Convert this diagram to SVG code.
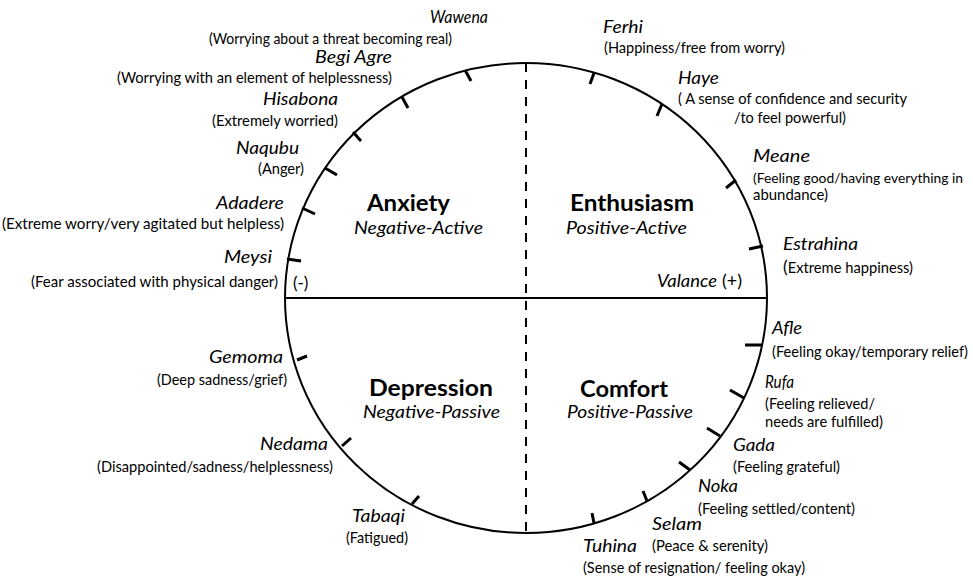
<svg xmlns="http://www.w3.org/2000/svg" width="973" height="576" viewBox="0 0 973 576">
<style>
text{font-family:Lato,"Liberation Sans",sans-serif;fill:#000}
.n{font-style:italic;font-size:18px}
.d{font-size:15px}
.q{font-weight:bold;font-size:23px}
.s{font-style:italic;font-size:18px}
.tk{stroke:#000;stroke-width:3;stroke-linecap:butt}
.ax{stroke:#000;stroke-width:2;fill:none}
</style>
<rect width="973" height="576" fill="#fff"/>
<g id="connectors">
<ellipse cx="526" cy="298" rx="241" ry="235" class="ax" stroke-width="2.5"/>
<line x1="285" y1="298" x2="767" y2="298" class="ax"/>
<line x1="526" y1="63" x2="526" y2="533" class="ax" stroke-width="2.5" stroke-dasharray="9,8"/>
</g>
<g id="axis-labels">
<text x="293" y="289" font-size="17">(-)</text>
<text y="287" font-size="18"><tspan x="657" font-style="italic" textLength="60" lengthAdjust="spacingAndGlyphs">Valance</tspan><tspan x="722">(+)</tspan></text>
</g>
<g id="q-anxiety"><text class="q" x="367" y="211" textLength="83" lengthAdjust="spacingAndGlyphs">Anxiety</text><text class="s" x="354" y="234" textLength="129" lengthAdjust="spacingAndGlyphs">Negative-Active</text></g>
<g id="q-enthusiasm"><text class="q" x="570" y="211" textLength="124" lengthAdjust="spacingAndGlyphs">Enthusiasm</text><text class="s" x="566" y="234" textLength="121" lengthAdjust="spacingAndGlyphs">Positive-Active</text></g>
<g id="q-depression"><text class="q" x="369" y="396" textLength="124" lengthAdjust="spacingAndGlyphs">Depression</text><text class="s" x="363" y="418" textLength="137" lengthAdjust="spacingAndGlyphs">Negative-Passive</text></g>
<g id="q-comfort"><text class="q" x="580" y="397" textLength="88" lengthAdjust="spacingAndGlyphs">Comfort</text><text class="s" x="567" y="418" textLength="126" lengthAdjust="spacingAndGlyphs">Positive-Passive</text></g>

<g id="wawena"><line class="tk" x1="465" y1="70" x2="471" y2="81"/><text class="n" x="430" y="23" textLength="58" lengthAdjust="spacingAndGlyphs">Wawena</text><text class="d" x="209" y="44" textLength="243" lengthAdjust="spacingAndGlyphs">(Worrying about a threat becoming real)</text></g>
<g id="begi-agre"><line class="tk" x1="402" y1="97" x2="408" y2="108"/><text class="n" x="315" y="63" textLength="77" lengthAdjust="spacingAndGlyphs">Begi Agre</text><text class="d" x="117" y="83" textLength="275" lengthAdjust="spacingAndGlyphs">(Worrying with an element of helplessness)</text></g>
<g id="hisabona"><line class="tk" x1="353" y1="132" x2="361" y2="141"/><text class="n" x="263" y="105" textLength="75" lengthAdjust="spacingAndGlyphs">Hisabona</text><text class="d" x="212" y="126" textLength="126" lengthAdjust="spacingAndGlyphs">(Extremely worried)</text></g>
<g id="naqubu"><line class="tk" x1="325" y1="168" x2="337" y2="175"/><text class="n" x="236" y="154" textLength="63" lengthAdjust="spacingAndGlyphs">Naqubu</text><text class="d" x="258" y="174" textLength="46" lengthAdjust="spacingAndGlyphs">(Anger)</text></g>
<g id="adadere"><line class="tk" x1="302" y1="208" x2="315" y2="214"/><text class="n" x="216" y="209" textLength="68" lengthAdjust="spacingAndGlyphs">Adadere</text><text class="d" x="2" y="229" textLength="282" lengthAdjust="spacingAndGlyphs">(Extreme worry/very agitated but helpless)</text></g>
<g id="meysi"><line class="tk" x1="287" y1="259" x2="301" y2="261"/><text class="n" x="224" y="263" textLength="48" lengthAdjust="spacingAndGlyphs">Meysi</text><text class="d" x="31" y="287" textLength="247" lengthAdjust="spacingAndGlyphs">(Fear associated with physical danger)</text></g>

<g id="ferhi"><line class="tk" x1="594" y1="73" x2="590" y2="84"/><text class="n" x="603" y="33" textLength="40" lengthAdjust="spacingAndGlyphs">Ferhi</text><text class="d" x="604" y="53" textLength="181" lengthAdjust="spacingAndGlyphs">(Happiness/free from worry)</text></g>
<g id="haye"><line class="tk" x1="662" y1="104" x2="657" y2="116"/><text class="n" x="678" y="84" textLength="41" lengthAdjust="spacingAndGlyphs">Haye</text><text class="d" x="678" y="104" textLength="229" lengthAdjust="spacingAndGlyphs">( A sense of confidence and security</text><text class="d" x="734" y="123" textLength="112" lengthAdjust="spacingAndGlyphs">/to feel powerful)</text></g>
<g id="meane"><line class="tk" x1="736" y1="180" x2="726" y2="188"/><text class="n" x="753" y="162" textLength="57" lengthAdjust="spacingAndGlyphs">Meane</text><text x="753" y="183" style="font-size:13.5px" textLength="210" lengthAdjust="spacingAndGlyphs">(Feeling good/having everything in</text><text class="d" x="753" y="200" textLength="75" lengthAdjust="spacingAndGlyphs">abundance)</text></g>
<g id="estrahina"><line class="tk" x1="763" y1="246" x2="749" y2="249"/><text class="n" x="783" y="250" textLength="75" lengthAdjust="spacingAndGlyphs">Estrahina</text><text class="d" x="783" y="273" textLength="130" lengthAdjust="spacingAndGlyphs"><tspan style="font-size:18px">(</tspan>Extreme happiness)</text></g>

<g id="afle"><line class="tk" x1="762" y1="345" x2="745" y2="345"/><text class="n" x="772" y="334" textLength="30" lengthAdjust="spacingAndGlyphs">Afle</text><text class="d" x="772" y="357" textLength="196" lengthAdjust="spacingAndGlyphs">(Feeling okay/temporary relief)</text></g>
<g id="rufa"><line class="tk" x1="744" y1="398" x2="730" y2="390"/><text class="n" x="765" y="388" textLength="29" lengthAdjust="spacingAndGlyphs">Rufa</text><text class="d" x="765" y="409" textLength="110" lengthAdjust="spacingAndGlyphs">(Feeling relieved/</text><text class="d" x="765" y="427" textLength="118" lengthAdjust="spacingAndGlyphs">needs are fulfilled)</text></g>
<g id="gada"><line class="tk" x1="720" y1="436" x2="707" y2="428"/><text class="n" x="733" y="451" textLength="42" lengthAdjust="spacingAndGlyphs">Gada</text><text class="d" x="733" y="472" textLength="107" lengthAdjust="spacingAndGlyphs">(Feeling grateful)</text></g>
<g id="noka"><line class="tk" x1="690" y1="470" x2="679" y2="462"/><text class="n" x="698" y="492" textLength="40" lengthAdjust="spacingAndGlyphs">Noka</text><text class="d" x="698" y="514" textLength="157" lengthAdjust="spacingAndGlyphs">(Feeling settled/content)</text></g>
<g id="selam"><line class="tk" x1="647" y1="501" x2="643" y2="491"/><text class="n" x="652" y="530" textLength="50" lengthAdjust="spacingAndGlyphs">Selam</text><text class="d" x="652" y="551" textLength="116" lengthAdjust="spacingAndGlyphs">(Peace &amp; serenity)</text></g>
<g id="tuhina"><line class="tk" x1="594" y1="523" x2="592" y2="513"/><text class="n" x="583" y="552" textLength="54" lengthAdjust="spacingAndGlyphs">Tuhina</text><text class="d" x="583" y="573" textLength="222" lengthAdjust="spacingAndGlyphs">(Sense of resignation/ feeling okay)</text></g>

<g id="gemoma"><line class="tk" x1="297" y1="360" x2="307" y2="356"/><text class="n" x="209" y="363" textLength="74" lengthAdjust="spacingAndGlyphs">Gemoma</text><text class="d" x="157" y="385" textLength="130" lengthAdjust="spacingAndGlyphs">(Deep sadness/grief)</text></g>
<g id="nedama"><line class="tk" x1="342" y1="446" x2="351" y2="438"/><text class="n" x="260" y="450" textLength="68" lengthAdjust="spacingAndGlyphs">Nedama</text><text class="d" x="97" y="472" textLength="236" lengthAdjust="spacingAndGlyphs">(Disappointed/sadness/helplessness)</text></g>
<g id="tabaqi"><line class="tk" x1="412" y1="504" x2="419" y2="496"/><text class="n" x="352" y="522" textLength="53" lengthAdjust="spacingAndGlyphs">Tabaqi</text><text class="d" x="346" y="543" textLength="62" lengthAdjust="spacingAndGlyphs">(Fatigued)</text></g>
</svg>
